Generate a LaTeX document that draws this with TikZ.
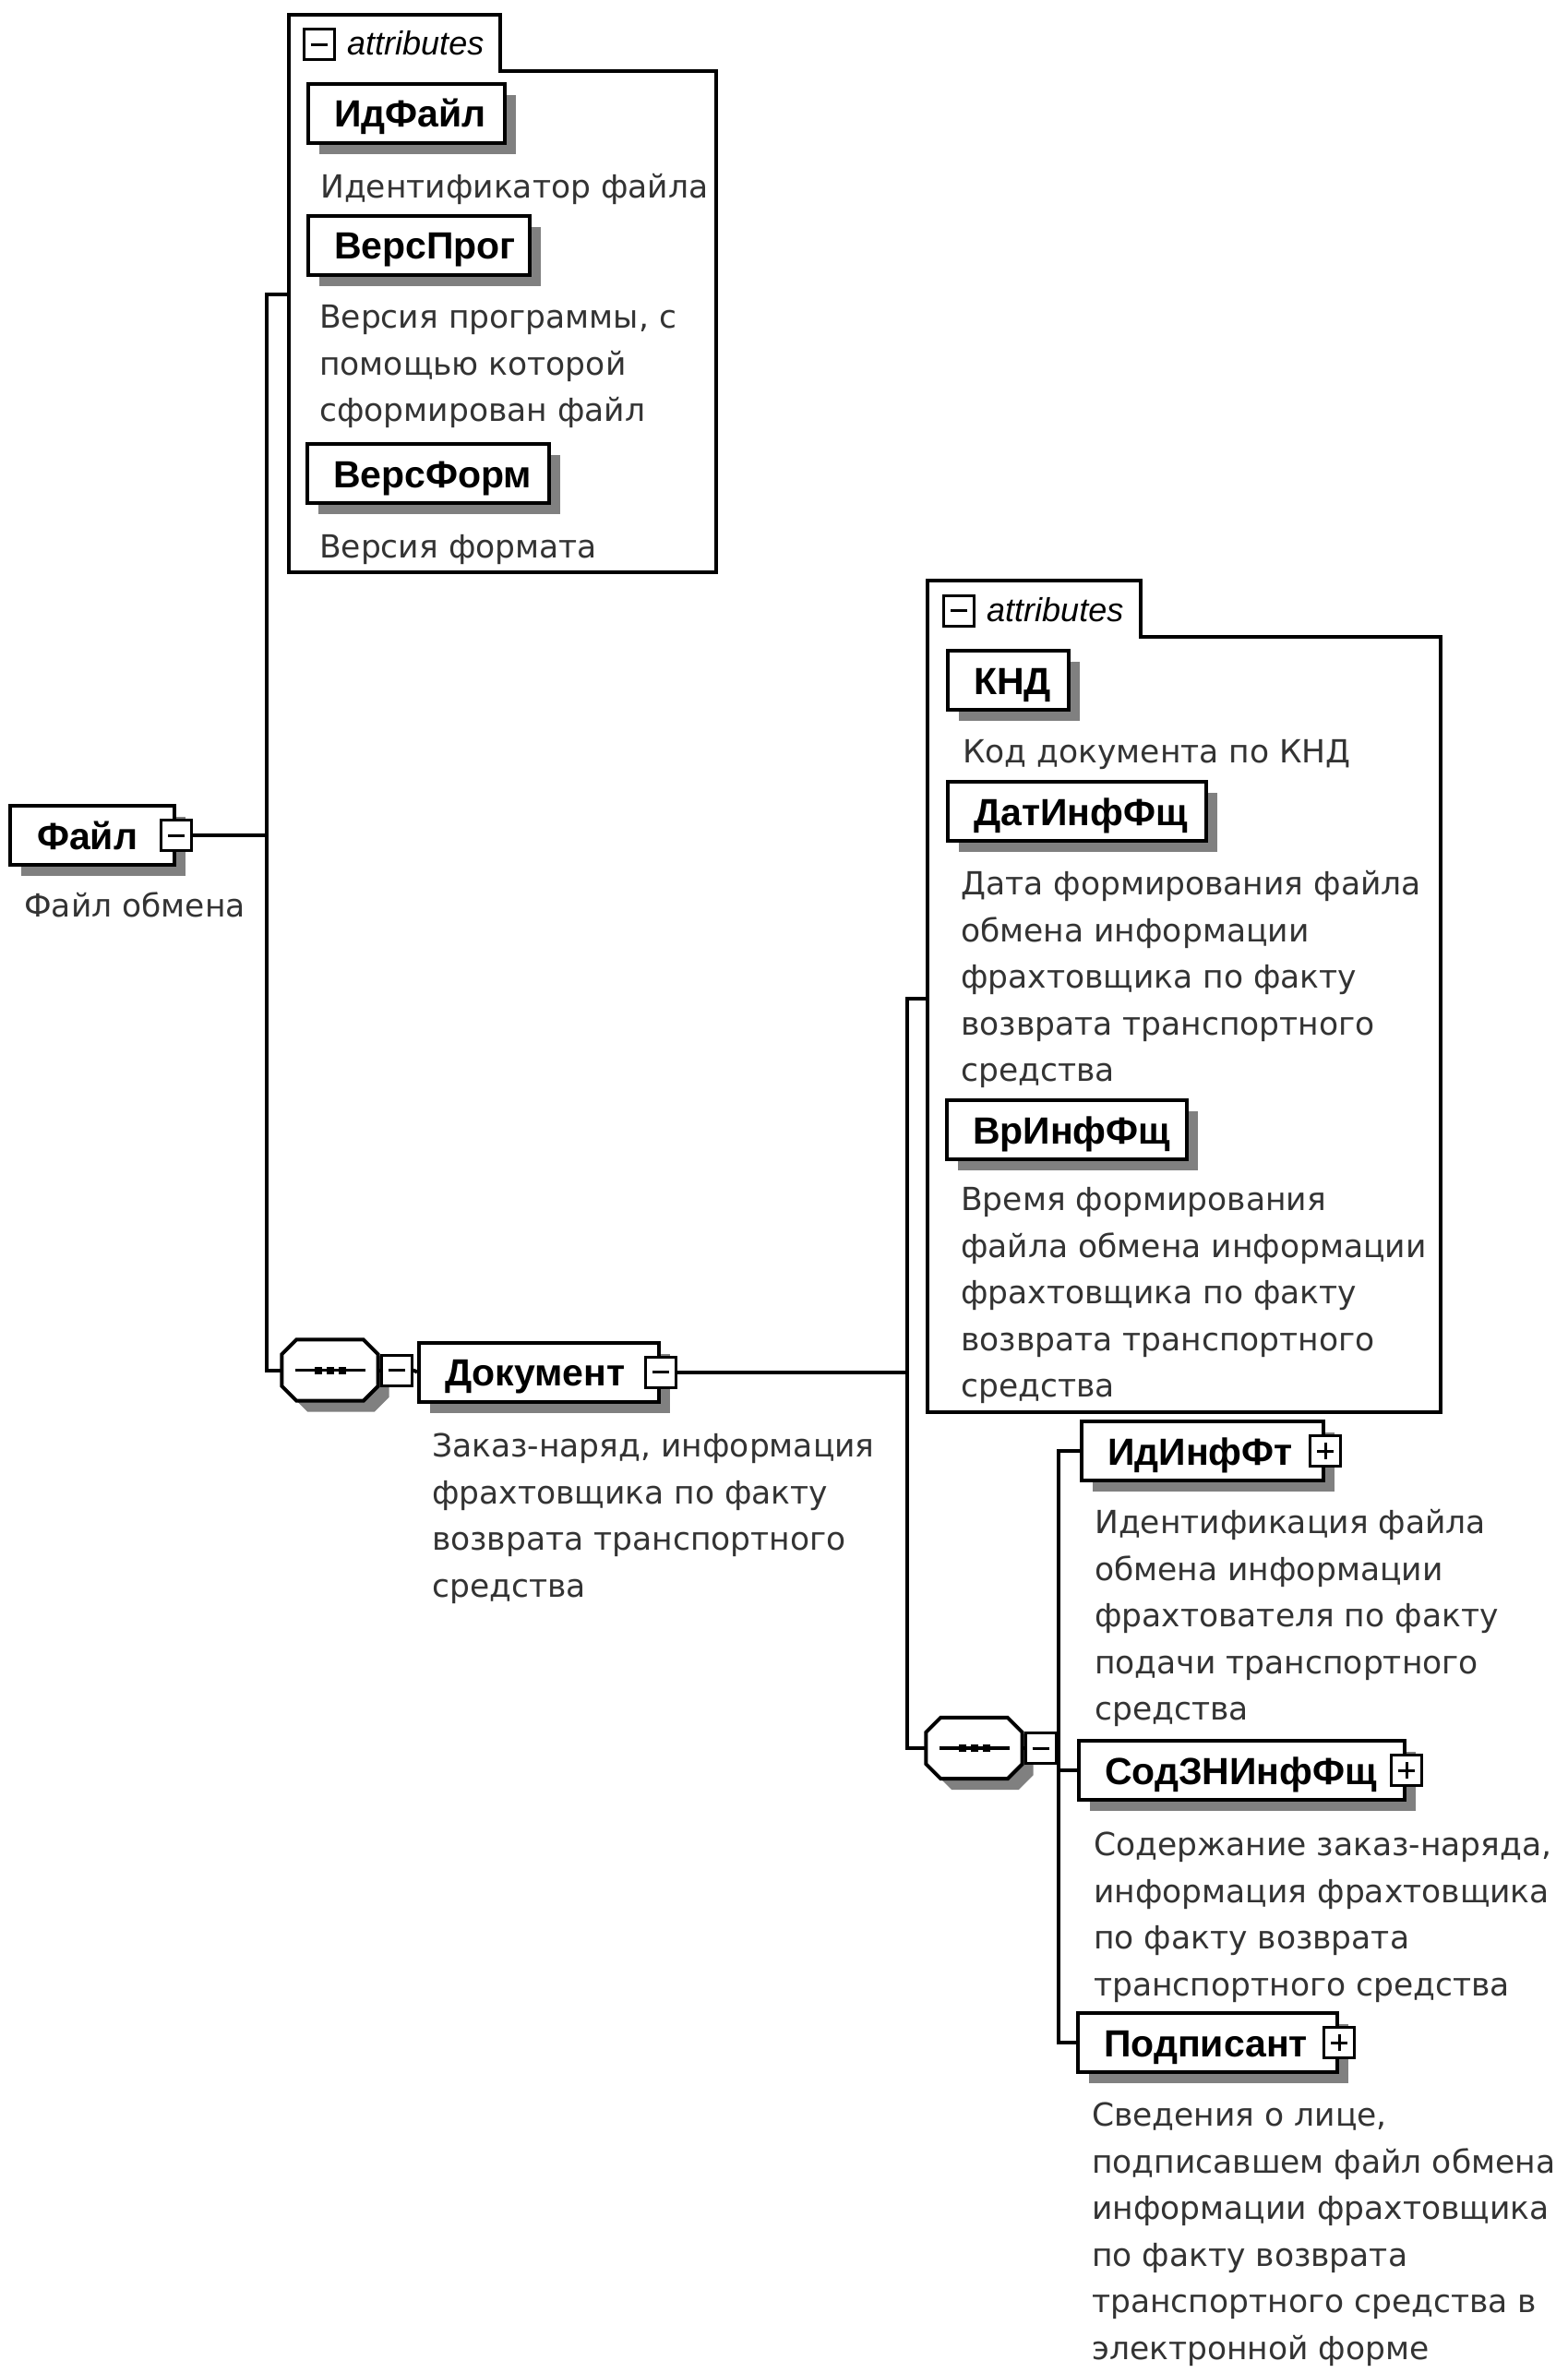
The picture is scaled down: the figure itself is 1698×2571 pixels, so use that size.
\documentclass[tikz,border=0pt]{standalone}
\usepackage{fontspec}
\setmainfont{DejaVu Sans}
\newfontfamily\arialf{Liberation Sans}
\usetikzlibrary{shadows}
\definecolor{shadowgray}{gray}{0.5}
\definecolor{descgray}{gray}{0.2}
\newcommand\namefnt{\arialf\bfseries\fontsize{41}{48}\selectfont}
\newcommand\descfnt{\fontsize{34.5}{50.5}\selectfont}
\newcommand\octpath[3]{([xshift=16pt+#2,yshift=#3]#1.north west) -- ([xshift=-16pt+#2,yshift=#3]#1.north east) -- ([xshift=#2,yshift=-16pt+#3]#1.north east) -- ([xshift=#2,yshift=16pt+#3]#1.south east) -- ([xshift=-16pt+#2,yshift=#3]#1.south east) -- ([xshift=16pt+#2,yshift=#3]#1.south west) -- ([xshift=#2,yshift=16pt+#3]#1.south west) -- ([xshift=#2,yshift=-16pt+#3]#1.north west) -- cycle}
\newcommand\seqdots[1]{%
  \draw[line width=3.5pt] ([xshift=-38pt]#1.center) -- ([xshift=38pt]#1.center);
  \foreach \d in {-13,0,13}{\fill ([xshift=\d pt-4pt,yshift=-4pt]#1.center) rectangle ([xshift=\d pt+4pt,yshift=4pt]#1.center);}}
\begin{document}
\begin{tikzpicture}[x=1pt,y=-1pt,line join=miter,
  namebox/.style={draw, fill=white, line width=4pt, anchor=north west, inner sep=0pt,
    minimum height=64pt, align=left, font=\namefnt, text height=36pt, text depth=6pt,
    drop shadow={shadow xshift=12pt, shadow yshift=-12pt, fill=shadowgray, opacity=1}},
  iconbox/.style={draw, fill=white, line width=3pt, minimum size=33pt, inner sep=0pt},
  minusicon/.style={iconbox, path picture={\draw[line width=3pt] ([xshift=-9pt]path picture bounding box.center) -- ([xshift=9pt]path picture bounding box.center);}},
  plusicon/.style={iconbox, path picture={\draw[line width=3pt] ([xshift=-9pt]path picture bounding box.center) -- ([xshift=9pt]path picture bounding box.center) ([yshift=-9pt]path picture bounding box.center) -- ([yshift=9pt]path picture bounding box.center);}},
  desc/.style={anchor=north west, inner sep=0pt, align=left, font=\descfnt, text=descgray},
  attrlabel/.style={anchor=base west, inner sep=0pt, font=\arialf\itshape\fontsize{36}{40}\selectfont},
  attrbox/.style={draw, fill=white, line width=4pt},
  seqbox/.style={minimum width=104pt, minimum height=66pt, inner sep=0pt},
  conn/.style={line width=4pt}]
\fill[white] (0,0) rectangle (1698,2571);
\useasboundingbox (0,0) rectangle (1698,2571);

% ---------- attributes of Файл ----------
\draw[attrbox] (313,16) -- (542,16) -- (542,77) -- (776,77) -- (776,620) -- (313,620) -- cycle;
\node[minusicon] (a1m) at (345.5,48.5) {};
\node[attrlabel] (a1l) at (376,60) {attributes};
\node[namebox, text width=213pt] (idfajl) at (332,89) {\hspace*{28pt}ИдФайл};
\node[desc] (idfajld) at (347,179) {\strut Идентификатор файла};
\node[namebox, text width=240pt] (versprog) at (332,232) {\hspace*{28pt}ВерсПрог};
\node[desc] (versprogd) at (346,320) {\strut Версия программы, с\\помощью которой\\сформирован файл};
\node[namebox, text width=262pt] (versform) at (331,479) {\hspace*{28pt}ВерсФорм};
\node[desc] (versformd) at (346,569) {\strut Версия формата};

% ---------- Файл ----------
\node[namebox, text width=178pt] (fajl) at (9,871) {\hspace*{29pt}Файл};
\node[minusicon] (fajlm) at (fajl.east) {};
\node[desc] (fajld) at (26,958) {\strut Файл обмена};

% ---------- sequence 1 + Документ ----------
\node[seqbox] (seq1) at (357.5,1484.5) {};
\fill[shadowgray] \octpath{seq1}{12pt}{-12pt};
\draw[line width=4pt, fill=white] \octpath{seq1}{0pt}{0pt};
\seqdots{seq1}
\node[minusicon] (seq1m) at ([xshift=20pt]seq1.east) {};
\node[namebox, text width=260pt] (doc) at (452,1452.5) {\hspace*{28pt}Документ};
\node[minusicon] (docm) at (doc.east) {};
\node[desc] (docd) at (468,1543) {\strut Заказ-наряд, информация\\фрахтовщика по факту\\возврата транспортного\\средства};

% ---------- attributes of Документ ----------
\draw[attrbox] (1005,629) -- (1236,629) -- (1236,690) -- (1561,690) -- (1561,1530) -- (1005,1530) -- cycle;
\node[minusicon] (a2m) at (1039,661.5) {};
\node[attrlabel] (a2l) at (1069,673) {attributes};
\node[namebox, text width=131pt] (knd) at (1025,703) {\hspace*{28pt}КНД};
\node[desc] (kndd) at (1043,791) {\strut Код документа по КНД};
\node[namebox, text width=280pt] (datinf) at (1025,845) {\hspace*{28pt}ДатИнфФщ};
\node[desc] (datinfd) at (1041,934) {\strut Дата формирования файла\\обмена информации\\фрахтовщика по факту\\возврата транспортного\\средства};
\node[namebox, text width=260pt] (vrinf) at (1024,1190) {\hspace*{28pt}ВрИнфФщ};
\node[desc] (vrinfd) at (1041,1276) {\strut Время формирования\\файла обмена информации\\фрахтовщика по факту\\возврата транспортного\\средства};

% ---------- sequence 2 + children ----------
\node[seqbox] (seq2) at (1055.5,1894) {};
\fill[shadowgray] \octpath{seq2}{12pt}{-12pt};
\draw[line width=4pt, fill=white] \octpath{seq2}{0pt}{0pt};
\seqdots{seq2}
\node[minusicon] (seq2m) at ([xshift=20pt]seq2.east) {};

\node[namebox, text width=262pt] (idinfft) at (1170,1538) {\hspace*{28pt}ИдИнфФт};
\node[plusicon] (idinfftp) at (idinfft.east) {};
\node[desc] (idinfftd) at (1186,1626) {\strut Идентификация файла\\обмена информации\\фрахтователя по факту\\подачи транспортного\\средства};
\node[namebox, text width=353pt] (sodzn) at (1167,1884) {\hspace*{28pt}СодЗНИнфФщ};
\node[plusicon] (sodznp) at (sodzn.east) {};
\node[desc] (sodznd) at (1185,1975) {\strut Содержание заказ-наряда,\\информация фрахтовщика\\по факту возврата\\транспортного средства};
\node[namebox, text width=281pt] (podp) at (1166,2179) {\hspace*{28pt}Подписант};
\node[plusicon] (podpp) at (podp.east) {};
\node[desc] (podpd) at (1183,2268) {\strut Сведения о лице,\\подписавшем файл обмена\\информации фрахтовщика\\по факту возврата\\транспортного средства в\\электронной форме};

% ---------- connectors ----------
\coordinate (a1j) at (313,319);
\coordinate (v1) at (289,319);
\draw[conn] (a1j) -- (v1) -- (v1 |- seq1.west) -- (seq1.west);
\draw[conn] (fajlm.east) -- (fajlm.east -| v1);
\draw[conn] (seq1.east) -- (seq1m.west);
\draw[conn] (seq1m.east) -- (doc.west);
\coordinate (a2j) at (1005,1082);
\coordinate (v2) at (983,1082);
\draw[conn] (docm.east) -- (docm.east -| v2);
\draw[conn] (a2j) -- (v2) -- (v2 |- seq2.west) -- (seq2.west);
\draw[conn] (seq2.east) -- (seq2m.west);
\coordinate (v3) at (1147,1894);
\draw[conn] (seq2m.east) -- (v3);
\draw[conn] (idinfft.west) -- (idinfft.west -| v3) -- (podp.west -| v3) -- (podp.west);
\draw[conn] (sodzn.west) -- (sodzn.west -| v3);
\end{tikzpicture}
\end{document}
